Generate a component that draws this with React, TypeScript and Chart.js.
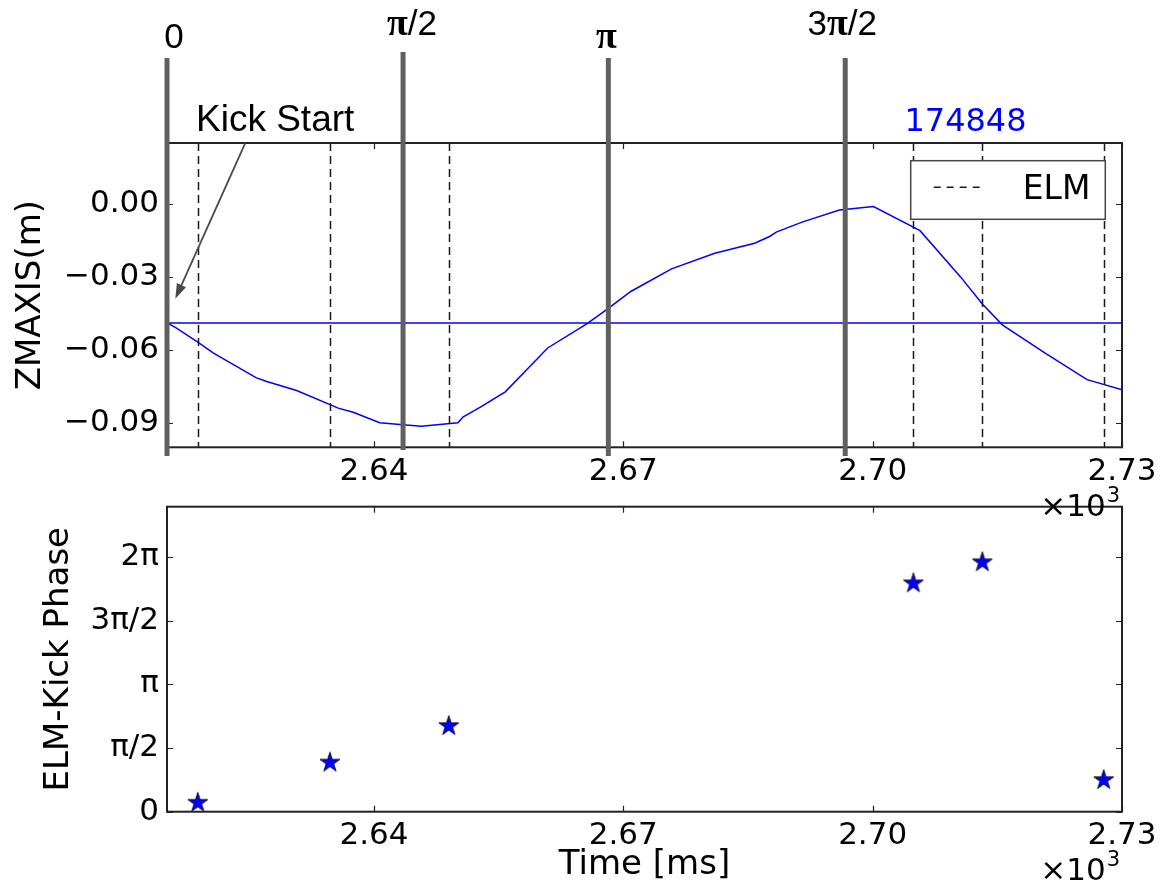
import { useEffect, useRef } from "react";
import { Chart, registerables } from "chart.js";

Chart.register(...registerables);

// Time window (ms) and labelled time ticks
const TIME_MIN = 2615.1;
const TIME_MAX = 2730;
const TIME_TICKS = [2640, 2670, 2700, 2730];

// ZMAXIS(m) trace
const Z_TIME = [
  2615.1, 2616.1, 2618.8, 2620.7, 2625.8, 2627.1, 2630.7, 2635.7, 2637.5, 2640.7,
  2643.5, 2645.7, 2650.1, 2650.7, 2652.8, 2655.8, 2660.9, 2665.6, 2668.2, 2670.9,
  2675.8, 2681.0, 2685.8, 2687.6, 2688.4, 2691.5, 2696.0, 2700.1, 2705.7, 2710.6,
  2713.2, 2715.6, 2720.8, 2725.8, 2730.0,
];
const Z_VALUE = [
  -0.0489, -0.0507, -0.0568, -0.0613, -0.0714, -0.073, -0.0767, -0.0839, -0.0856, -0.0899,
  -0.0907, -0.0914, -0.0899, -0.0876, -0.0835, -0.0772, -0.0592, -0.0493, -0.0429, -0.036,
  -0.0267, -0.0203, -0.0162, -0.0134, -0.0116, -0.0075, -0.0025, -0.0011, -0.011, -0.0301,
  -0.0411, -0.0497, -0.0614, -0.0722, -0.0764,
];
const Z_MIN = -0.1;
const Z_MAX = 0.025;
const Z_TICKS = [-0.09, -0.06, -0.03, 0];

// ZMAXIS level at the kick start
const KICK_START_Z = -0.0489;
const KICK_ARROW_FROM = { x: 2624.5, y: 0.0248 };
const KICK_ARROW_TO = { x: 2616.1, y: -0.039 };

// Kick phase markers
const PHASE_MARK_TIMES = [2615.1, 2643.5, 2668.2, 2696.7];
const PHASE_MARK_LABELS = ["0", "π/2", "π", "3π/2"];

// ELM times and their phase relative to the kick cycle
const ELM_TIMES = [2618.8, 2634.7, 2649.0, 2704.9, 2713.2, 2727.8];
const ELM_PHASES = [0.22, 1.21, 2.11, 5.63, 6.15, 0.78];

const PHASE_MAX = 7.52;
const PHASE_TICKS = [0, Math.PI / 2, Math.PI, (3 * Math.PI) / 2, 2 * Math.PI];
const PHASE_TICK_LABELS = ["0", "π/2", "π", "3π/2", "2π"];

const SHOT = "174848";

// ---------- drawing helpers ----------
const SANS = '"DejaVu Sans"';
const TICK_FONT = { family: "DejaVu Sans", size: 31 };
const TITLE_FONT = { family: "DejaVu Sans", size: 34 };
const BLUE = "#0000ff";

function makeStar(size: number) {
  const c = document.createElement("canvas");
  c.width = size;
  c.height = size;
  const g = c.getContext("2d")!;
  const cx = size / 2;
  const cy = size / 2;
  const R = size / 2 - 1.5;
  const r = R * 0.382;
  g.beginPath();
  for (let i = 0; i < 10; i++) {
    const a = -Math.PI / 2 + (i * Math.PI) / 5;
    const rad = i % 2 === 0 ? R : r;
    g.lineTo(cx + rad * Math.cos(a), cy + rad * Math.sin(a));
  }
  g.closePath();
  g.fillStyle = BLUE;
  g.fill();
  g.strokeStyle = "#000";
  g.lineWidth = 0.8;
  g.stroke();
  return c;
}

function drawFrame(chart: any) {
  const { ctx, chartArea: a, scales } = chart;
  ctx.save();
  ctx.setLineDash([]);
  ctx.strokeStyle = "#222";
  ctx.lineWidth = 2;
  ctx.strokeRect(a.left, a.top, a.right - a.left, a.bottom - a.top);
  ctx.lineWidth = 1.2;
  const L = 6;
  scales.x.ticks.forEach((t: any) => {
    const px = Math.round(scales.x.getPixelForValue(t.value)) + 0.5;
    ctx.beginPath();
    ctx.moveTo(px, a.bottom);
    ctx.lineTo(px, a.bottom - L);
    ctx.moveTo(px, a.top);
    ctx.lineTo(px, a.top + L);
    ctx.stroke();
  });
  scales.y.ticks.forEach((t: any) => {
    const py = Math.round(scales.y.getPixelForValue(t.value)) + 0.5;
    ctx.beginPath();
    ctx.moveTo(a.left, py);
    ctx.lineTo(a.left + L, py);
    ctx.moveTo(a.right, py);
    ctx.lineTo(a.right - L, py);
    ctx.stroke();
  });
  ctx.restore();
}

function drawSci(ctx: CanvasRenderingContext2D, rightX: number, baseline: number) {
  ctx.save();
  ctx.fillStyle = "#000";
  ctx.textAlign = "left";
  ctx.textBaseline = "alphabetic";
  ctx.font = `31px ${SANS}`;
  const w1 = ctx.measureText("×10").width;
  ctx.font = `21px ${SANS}`;
  const w2 = ctx.measureText("3").width;
  const x0 = rightX - w1 - w2 - 1;
  ctx.font = `31px ${SANS}`;
  ctx.fillText("×10", x0, baseline);
  ctx.font = `21px ${SANS}`;
  ctx.fillText("3", x0 + w1 + 1, baseline - 14);
  ctx.restore();
}

// phase label: digits in sans, π in bold serif
function drawPhaseLabel(ctx: CanvasRenderingContext2D, text: string, cx: number, baseline: number) {
  const parts = text.split(/(π)/).filter((p) => p.length > 0);
  const fontFor = (p: string) => (p === "π" ? 'bold 38px "Liberation Serif"' : '35px "Liberation Sans"');
  let total = 0;
  const widths = parts.map((p) => {
    ctx.font = fontFor(p);
    const w = ctx.measureText(p).width;
    total += w;
    return w;
  });
  let x = cx - total / 2;
  parts.forEach((p, i) => {
    ctx.font = fontFor(p);
    ctx.fillText(p, x, baseline);
    x += widths[i];
  });
}

const PHASE_LABEL_DX = [7, 9, -2, -3];
const PHASE_LABEL_BASELINE = [48, 35, 48, 35];

const topDecor = {
  id: "topDecor",
  afterDatasetsDraw(chart: any) {
    const { ctx, chartArea: a, scales } = chart;
    const x = scales.x;
    const y = scales.y;
    ctx.save();

    // ELM times
    ctx.strokeStyle = "#1a1a1a";
    ctx.lineWidth = 1.5;
    ctx.setLineDash([8, 5]);
    ELM_TIMES.forEach((t) => {
      const px = Math.round(x.getPixelForValue(t)) + 0.5;
      ctx.beginPath();
      ctx.moveTo(px, a.top);
      ctx.lineTo(px, a.bottom);
      ctx.stroke();
    });
    ctx.setLineDash([]);
    ctx.restore();

    drawFrame(chart);

    ctx.save();
    // legend
    const lx = a.right - 211.3;
    const ly = a.top + 17.7;
    const lw = 194.6;
    const lh = 58.6;
    ctx.fillStyle = "#fff";
    ctx.fillRect(lx, ly, lw, lh);
    ctx.strokeStyle = "#444";
    ctx.lineWidth = 1.5;
    ctx.strokeRect(lx, ly, lw, lh);
    ctx.strokeStyle = "#1a1a1a";
    ctx.lineWidth = 1.5;
    ctx.setLineDash([7, 6]);
    ctx.beginPath();
    ctx.moveTo(lx + 23, ly + 26.5);
    ctx.lineTo(lx + 74, ly + 26.5);
    ctx.stroke();
    ctx.setLineDash([]);
    ctx.fillStyle = "#000";
    ctx.font = `33px ${SANS}`;
    ctx.textAlign = "left";
    ctx.textBaseline = "alphabetic";
    ctx.fillText("ELM", lx + 112, ly + 38.5);

    // kick phase markers
    ctx.strokeStyle = "#606060";
    ctx.lineWidth = 5;
    PHASE_MARK_TIMES.forEach((t, i) => {
      const px = x.getPixelForValue(t);
      ctx.beginPath();
      ctx.moveTo(px, i === 1 ? 52 : 58);
      ctx.lineTo(px, i === 1 ? 450 : 456);
      ctx.stroke();
      ctx.fillStyle = "#000";
      drawPhaseLabel(ctx, PHASE_MARK_LABELS[i], px + PHASE_LABEL_DX[i], PHASE_LABEL_BASELINE[i]);
    });

    // kick start annotation
    ctx.fillStyle = "#000";
    ctx.font = '37px "Liberation Sans"';
    ctx.textAlign = "left";
    ctx.fillText("Kick Start", a.left + 29, 131);
    const x1 = x.getPixelForValue(KICK_ARROW_FROM.x);
    const y1 = y.getPixelForValue(KICK_ARROW_FROM.y);
    const x2 = x.getPixelForValue(KICK_ARROW_TO.x);
    const y2 = y.getPixelForValue(KICK_ARROW_TO.y);
    const ang = Math.atan2(y2 - y1, x2 - x1);
    const hl = 15;
    const hw = 5;
    ctx.strokeStyle = "#4a4a4a";
    ctx.fillStyle = "#4a4a4a";
    ctx.lineWidth = 1.8;
    ctx.beginPath();
    ctx.moveTo(x1, y1);
    ctx.lineTo(x2 - Math.cos(ang) * hl * 0.8, y2 - Math.sin(ang) * hl * 0.8);
    ctx.stroke();
    ctx.beginPath();
    ctx.moveTo(x2, y2);
    ctx.lineTo(x2 - Math.cos(ang) * hl + Math.sin(ang) * hw, y2 - Math.sin(ang) * hl - Math.cos(ang) * hw);
    ctx.lineTo(x2 - Math.cos(ang) * hl - Math.sin(ang) * hw, y2 - Math.sin(ang) * hl + Math.cos(ang) * hw);
    ctx.closePath();
    ctx.fill();

    // shot number
    ctx.fillStyle = BLUE;
    ctx.font = `32px ${SANS}`;
    ctx.textAlign = "center";
    ctx.fillText(SHOT, a.left + 798.5, 131);

    ctx.restore();
    drawSci(ctx, 1120, 516);
  },
};

const bottomDecor = {
  id: "bottomDecor",
  afterDatasetsDraw(chart: any) {
    drawFrame(chart);
    drawSci(chart.ctx, 1120, 400);
  },
};

function timeAxis(height: number, title?: string) {
  return {
    type: "linear" as const,
    min: TIME_MIN,
    max: TIME_MAX,
    grid: { display: false, drawTicks: false },
    border: { display: false },
    afterBuildTicks: (s: any) => {
      s.ticks = TIME_TICKS.map((v) => ({ value: v }));
    },
    afterFit: (s: any) => {
      s.height = height;
    },
    ticks: {
      font: TICK_FONT,
      color: "#000",
      padding: 6,
      maxRotation: 0,
      autoSkip: false,
      callback: (v: any) => (Number(v) / 1000).toFixed(2),
    },
    title: title
      ? { display: true, text: title, font: TITLE_FONT, color: "#000", padding: { top: 0, bottom: 1 } }
      : { display: false },
  };
}

export default function App() {
  const topRef = useRef<HTMLCanvasElement>(null);
  const botRef = useRef<HTMLCanvasElement>(null);

  useEffect(() => {
    const star = makeStar(24);

    const top = new Chart(topRef.current!, {
      type: "line",
      data: {
        datasets: [
          {
            data: Z_TIME.map((t, i) => ({ x: t, y: Z_VALUE[i] })),
            borderColor: BLUE,
            borderWidth: 1.5,
            pointRadius: 0,
            tension: 0,
          },
          {
            data: [
              { x: TIME_MIN, y: KICK_START_Z },
              { x: TIME_MAX, y: KICK_START_Z },
            ],
            borderColor: BLUE,
            borderWidth: 1.5,
            pointRadius: 0,
          },
        ],
      },
      options: {
        responsive: false,
        animation: false,
        events: [],
        layout: { padding: { left: 0, right: 41, top: 143, bottom: 0 } },
        plugins: { legend: { display: false }, tooltip: { enabled: false } },
        scales: {
          x: timeAxis(530 - 447.3),
          y: {
            type: "linear",
            min: Z_MIN,
            max: Z_MAX,
            grid: { display: false, drawTicks: false },
            border: { display: false },
            afterBuildTicks: (s: any) => {
              s.ticks = Z_TICKS.map((v) => ({ value: v }));
            },
            afterFit: (s: any) => {
              s.width = 167;
            },
            ticks: {
              font: TICK_FONT,
              color: "#000",
              padding: 8,
              callback: (v: any) => {
                const n = Number(v);
                return Math.abs(n) < 1e-9 ? "0.00" : "\u2212" + Math.abs(n).toFixed(2);
              },
            },
            title: { display: true, text: "ZMAXIS(m)", font: TITLE_FONT, color: "#000", padding: { top: 11, bottom: 0 } },
          },
        },
      },
      plugins: [topDecor],
    });

    const bottom = new Chart(botRef.current!, {
      type: "scatter",
      data: {
        datasets: [
          {
            data: ELM_TIMES.map((t, i) => ({ x: t, y: ELM_PHASES[i] })),
            pointStyle: star as any,
            pointRadius: 11,
          },
        ],
      },
      options: {
        responsive: false,
        animation: false,
        events: [],
        layout: { padding: { left: 0, right: 41, top: 26.7, bottom: 0 } },
        plugins: { legend: { display: false }, tooltip: { enabled: false } },
        scales: {
          x: timeAxis(407 - 331.7, "Time [ms]"),
          y: {
            type: "linear",
            min: 0,
            max: PHASE_MAX,
            grid: { display: false, drawTicks: false },
            border: { display: false },
            afterBuildTicks: (s: any) => {
              s.ticks = PHASE_TICKS.map((v) => ({ value: v }));
            },
            afterFit: (s: any) => {
              s.width = 167;
            },
            ticks: {
              font: TICK_FONT,
              color: "#000",
              padding: 8,
              callback: (_v: any, i: number) => PHASE_TICK_LABELS[i],
            },
            title: { display: true, text: "ELM-Kick Phase", font: TITLE_FONT, color: "#000", padding: { top: 39, bottom: 0 } },
          },
        },
      },
      plugins: [bottomDecor],
    });

    return () => {
      top.destroy();
      bottom.destroy();
    };
  }, []);

  return (
    <div style={{ position: "fixed", left: 0, top: 0, width: 1163, height: 887, background: "#fff" }}>
      <canvas
        ref={botRef}
        width={1163}
        height={407}
        style={{ position: "absolute", left: 0, top: 480, width: 1163, height: 407 }}
      />
      <canvas
        ref={topRef}
        width={1163}
        height={530}
        style={{ position: "absolute", left: 0, top: 0, width: 1163, height: 530 }}
      />
    </div>
  );
}
